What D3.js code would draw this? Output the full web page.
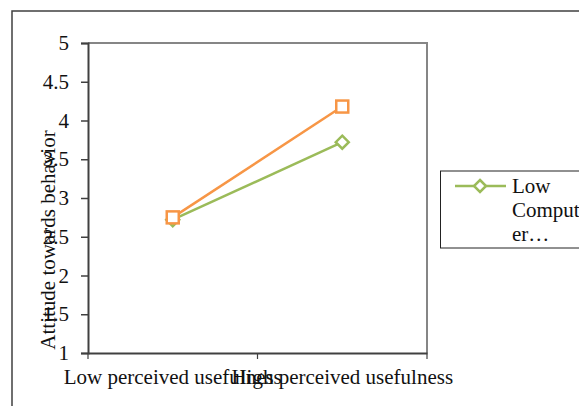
<!DOCTYPE html>
<html><head><meta charset="utf-8">
<script src="https://d3js.org/d3.v7.min.js"></script>
<style>html,body{margin:0;padding:0;background:#fff;}svg{display:block;}</style>
</head><body><svg id="c" width="579" height="406"></svg>
<script>
const categories = ["Low perceived usefulness", "High perceived usefulness"];
const seriesNames = ["Low Computer…", "High Computer…"];
const lowComputer = [2.72, 3.72];
const highComputer = [2.75, 4.18];
const yTicks = [1, 1.5, 2, 2.5, 3, 3.5, 4, 4.5, 5];
const yTitle = "Attitude towards behavior";
const legendLines = ["Low", "Comput", "er…"];

const svg = d3.select("#c");
const font = "'Liberation Serif','Times New Roman',serif";
const fs = 21;
const L = 88, R = 427, T = 43, B = 353;

// outer frame
svg.append("path").attr("d", `M12,406 V11 H579`).attr("fill","none").attr("stroke","#404040").attr("stroke-width",1.5);

const x = d3.scaleBand().domain(categories).range([L, R]).paddingInner(0).paddingOuter(0);
const y = d3.scaleLinear().domain([1, 5]).range([B, T]);

// plot border top/right
svg.append("path").attr("d", `M${L},${T} H${R} V${B}`).attr("fill","none").attr("stroke","#868686").attr("stroke-width",2);

// y axis
const ya = svg.append("g").attr("transform", `translate(${L},0)`)
  .call(d3.axisLeft(y).tickValues(yTicks).tickSize(7).tickPadding(12).tickFormat(d3.format("")));
ya.select(".domain").attr("stroke","#404040").attr("stroke-width",2);
ya.selectAll(".tick line").attr("stroke","#404040").attr("stroke-width",1.5);
ya.selectAll(".tick text").attr("font-family", font).attr("font-size", fs).attr("fill","#111");

// x axis
const xa = svg.append("g").attr("transform", `translate(0,${B})`)
  .call(d3.axisBottom(x).tickSize(0).tickPadding(16));
xa.select(".domain").attr("stroke","#404040").attr("stroke-width",2);
xa.selectAll(".tick text").attr("font-family", font).attr("font-size", fs).attr("fill","#111");
// tick marks at band edges
const edges = [L, L + x.bandwidth(), R];
svg.selectAll(".xt").data(edges).enter().append("line")
  .attr("x1", d=>d).attr("x2", d=>d).attr("y1", B).attr("y2", B+6)
  .attr("stroke","#404040").attr("stroke-width",1.2);

// y title
svg.append("text").attr("transform", "translate(55,240) rotate(-90)")
  .attr("text-anchor","middle").attr("font-family", font).attr("font-size", fs).attr("fill","#111")
  .text(yTitle);

const cx = d => x(d) + x.bandwidth()/2;
const line = d3.line().x((d,i)=>cx(categories[i])).y(d=>y(d));
const green = "#9BBB59", orange = "#F79646";

// green series
svg.append("path").datum(lowComputer).attr("d", line).attr("fill","none").attr("stroke",green).attr("stroke-width",2.5);
const dia = 6.5;
svg.selectAll(".gd").data(lowComputer).enter().append("path")
  .attr("d",(d,i)=>{const px=cx(categories[i]), py=y(d); return `M${px},${py-dia}L${px+dia},${py}L${px},${py+dia}L${px-dia},${py}Z`;})
  .attr("fill","#fff").attr("stroke",green).attr("stroke-width",2.5);

// orange series
svg.append("path").datum(highComputer).attr("d", line).attr("fill","none").attr("stroke",orange).attr("stroke-width",2.5);
const sq = 6;
svg.selectAll(".os").data(highComputer).enter().append("rect")
  .attr("x",(d,i)=>cx(categories[i])-sq).attr("y",d=>y(d)-sq).attr("width",sq*2).attr("height",sq*2)
  .attr("fill","#fff").attr("stroke",orange).attr("stroke-width",2.5);

// legend
svg.append("rect").attr("x",440.5).attr("y",171).attr("width",160).attr("height",77)
  .attr("fill","#fff").attr("stroke","#222").attr("stroke-width",1);
svg.append("line").attr("x1",455).attr("x2",506).attr("y1",186).attr("y2",186).attr("stroke",green).attr("stroke-width",2.5);
svg.append("path").attr("d",`M480,180L486,186L480,192L474,186Z`).attr("fill","#fff").attr("stroke",green).attr("stroke-width",2.5);
svg.selectAll(".lt").data(legendLines).enter().append("text")
  .attr("x",512).attr("y",(d,i)=>193+i*24).attr("font-family",font).attr("font-size",fs).attr("fill","#111").text(d=>d);
</script></body></html>
